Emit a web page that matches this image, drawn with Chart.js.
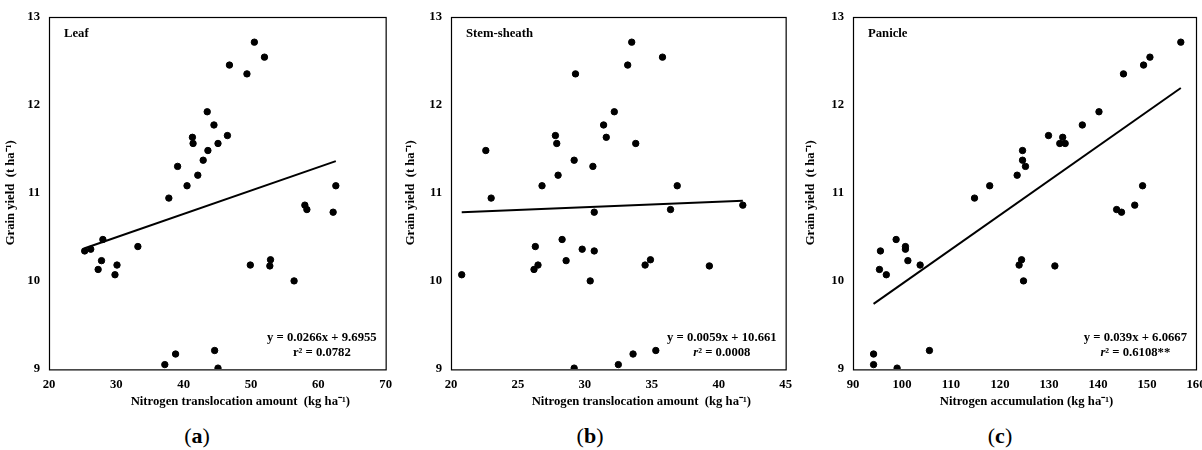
<!DOCTYPE html>
<html>
<head>
<meta charset="utf-8">
<script src="https://cdn.jsdelivr.net/npm/chart.js@4.4.1/dist/chart.umd.min.js"></script>
<style>
  html, body { margin: 0; padding: 0; background: #fff; }
  body { width: 1202px; height: 450px; position: relative; overflow: hidden; }
  canvas { position: absolute; top: 0; }
  .tag { position: absolute; top: 423px; width: 80px; text-align: center;
         font: 22px "Liberation Serif", "Times New Roman", serif; color: #000; }
</style>
</head>
<body>
<canvas id="leaf-chart" width="400" height="415" style="left:0px"></canvas>
<canvas id="stem-chart" width="400" height="415" style="left:400px"></canvas>
<canvas id="panicle-chart" width="420" height="415" style="left:800px"></canvas>
<div class="tag" style="left:157px">(<b>a</b>)</div>
<div class="tag" style="left:550px">(<b>b</b>)</div>
<div class="tag" style="left:960px">(<b>c</b>)</div>

<script>
// Grain yield (t/ha), same 36 plots in every panel
const grainYield = [12.71, 12.54, 12.45, 12.35, 11.92, 11.77, 11.65, 11.63, 11.56, 11.56,
  11.48, 11.37, 11.30, 11.20, 11.08, 11.08, 10.94, 10.86, 10.81, 10.78,
  10.47, 10.39, 10.36, 10.34, 10.24, 10.23, 10.18, 10.18, 10.17, 10.13,
  10.07, 10.00, 9.21, 9.17, 9.05, 9.01];

// Nitrogen translocation from leaf (kg/ha)
const leafN = [50.5, 52.0, 46.8, 49.4, 43.5, 44.5, 46.5, 41.3, 41.4, 45.1,
  43.6, 42.9, 39.1, 42.1, 40.5, 62.6, 37.8, 58.0, 58.3, 62.2,
  28.0, 33.2, 26.2, 25.3, 52.9, 27.8, 30.1, 49.9, 52.8, 27.3,
  29.8, 56.4, 44.6, 38.8, 37.2, 45.1];

// Nitrogen translocation from stem-sheath (kg/ha)
const stemN = [33.5, 35.8, 33.2, 29.3, 32.2, 31.4, 27.8, 31.6, 27.9, 33.8,
  22.6, 29.2, 30.6, 28.0, 26.8, 36.9, 23.0, 41.8, 36.4, 30.7,
  28.3, 26.3, 29.8, 30.7, 34.9, 28.6, 26.5, 34.5, 39.3, 26.2,
  20.8, 30.4, 35.3, 33.6, 32.5, 29.2];

// Nitrogen accumulation in panicle (kg/ha)
const panicleN = [156.9, 150.6, 149.3, 145.2, 140.2, 136.8, 129.9, 132.8, 132.2, 133.3,
  124.6, 124.6, 125.2, 123.5, 117.9, 149.1, 114.8, 147.5, 143.8, 144.8,
  98.8, 100.7, 100.7, 95.6, 124.4, 101.2, 103.7, 123.9, 131.2, 95.4,
  96.8, 124.8, 105.6, 94.2, 94.2, 99.0];

// regression line end points (x, y)
const leafTrendX = [25.3, 62.6];
const leafTrendY = [10.37, 11.36];
const stemTrendX = [20.8, 41.8];
const stemTrendY = [10.78, 10.91];
const panicleTrendX = [94.2, 156.9];
const panicleTrendY = [9.74, 12.19];

const FONT = '"Liberation Serif", "Times New Roman", serif';
const FS = 12.7;

// box round the plot area, panel name, x title and the regression text
const panelText = {
  id: 'panelText',
  afterDraw(chart, args, opts) {
    const { ctx, chartArea: a } = chart;
    const base = 'bold ' + FS + 'px ' + FONT;
    ctx.save();
    ctx.strokeStyle = '#000';
    ctx.lineWidth = 1.2;
    ctx.strokeRect(Math.round(a.left) + 0.5, Math.round(a.top) + 0.5, a.width, a.height);

    ctx.fillStyle = '#000';
    ctx.textBaseline = 'middle';
    ctx.font = base;
    ctx.textAlign = 'left';
    ctx.fillText(opts.name, a.left + 15, a.top + 17);

    // x axis title, not quite centred in the original
    ctx.textAlign = 'center';
    ctx.fillText(opts.xTitle, (a.left + a.right) / 2 + opts.titleShift, a.bottom + 33);

    const eqW = ctx.measureText(opts.equation).width;
    const cx = a.right - 9 - eqW / 2;
    ctx.fillText(opts.equation, cx, a.bottom - 31);

    // r² line, the r may be italic
    const rFont = (opts.italicR ? 'italic ' : '') + base;
    ctx.font = rFont;
    const rW = ctx.measureText('r').width;
    ctx.font = base;
    const restW = ctx.measureText(opts.r2).width;
    const x = cx - (rW + restW) / 2;
    ctx.textAlign = 'left';
    ctx.font = rFont;
    ctx.fillText('r', x, a.bottom - 16);
    ctx.font = base;
    ctx.fillText(opts.r2, x + rW, a.bottom - 16);
    ctx.restore();
  }
};

function toPoints(xs, ys) {
  return xs.map((x, i) => ({ x: x, y: ys[i] }));
}

function makePanel(canvasId, xs, trendX, trendY, cfg) {
  const ctx = document.getElementById(canvasId).getContext('2d');
  new Chart(ctx, {
    type: 'scatter',
    data: {
      datasets: [{
        data: toPoints(xs, grainYield),
        backgroundColor: '#000',
        borderColor: '#000',
        pointRadius: 3.2,
        pointHoverRadius: 3.2
      }, {
        data: toPoints(trendX, trendY),
        showLine: true,
        borderColor: '#000',
        borderWidth: 2,
        pointRadius: 0,
        fill: false
      }]
    },
    options: {
      responsive: false,
      animation: false,
      events: [],
      layout: { padding: { top: 16, right: cfg.padRight, bottom: 0, left: 0 } },
      plugins: {
        legend: { display: false },
        tooltip: { enabled: false },
        panelText: {
          name: cfg.name, equation: cfg.equation, r2: cfg.r2, italicR: cfg.italicR,
          xTitle: cfg.xTitle, titleShift: cfg.titleShift
        }
      },
      scales: {
        x: {
          type: 'linear',
          min: cfg.xMin,
          max: cfg.xMax,
          grid: { display: false, drawTicks: false },
          border: { display: false },
          ticks: {
            stepSize: cfg.xStep,
            padding: 8,
            color: '#000',
            font: { family: FONT, size: FS, weight: 'bold' }
          },
          afterFit: scale => { scale.height = 46; }
        },
        y: {
          min: 9,
          max: 13,
          grid: { display: false, drawTicks: false },
          border: { display: false },
          ticks: {
            stepSize: 1,
            padding: 9,
            color: '#000',
            font: { family: FONT, size: FS, weight: 'bold' }
          },
          title: {
            display: true,
            text: 'Grain yield  (t ha⁻¹)',
            color: '#000',
            padding: { top: 3, bottom: 0 },
            font: { family: FONT, size: FS, weight: 'bold' }
          },
          afterFit: scale => { scale.width = cfg.left; }
        }
      }
    },
    plugins: [panelText]
  });
}

makePanel('leaf-chart', leafN, leafTrendX, leafTrendY, {
  name: 'Leaf', equation: 'y = 0.0266x + 9.6955', r2: '² = 0.0782', italicR: false,
  xMin: 20, xMax: 70, xStep: 10, left: 49, padRight: 8,
  xTitle: 'Nitrogen translocation amount  (kg ha⁻¹)', titleShift: 23
});

makePanel('stem-chart', stemN, stemTrendX, stemTrendY, {
  name: 'Stem-sheath', equation: 'y = 0.0059x + 10.661', r2: '² = 0.0008', italicR: true,
  xMin: 20, xMax: 45, xStep: 5, left: 51, padRight: 6,
  xTitle: 'Nitrogen translocation amount  (kg ha⁻¹)', titleShift: 23
});

makePanel('panicle-chart', panicleN, panicleTrendX, panicleTrendY, {
  name: 'Panicle', equation: 'y = 0.039x + 6.0667', r2: '² = 0.6108**', italicR: true,
  xMin: 90, xMax: 160, xStep: 10, left: 53, padRight: 24,
  xTitle: 'Nitrogen accumulation (kg ha⁻¹)', titleShift: 2
});
</script>
</body>
</html>
